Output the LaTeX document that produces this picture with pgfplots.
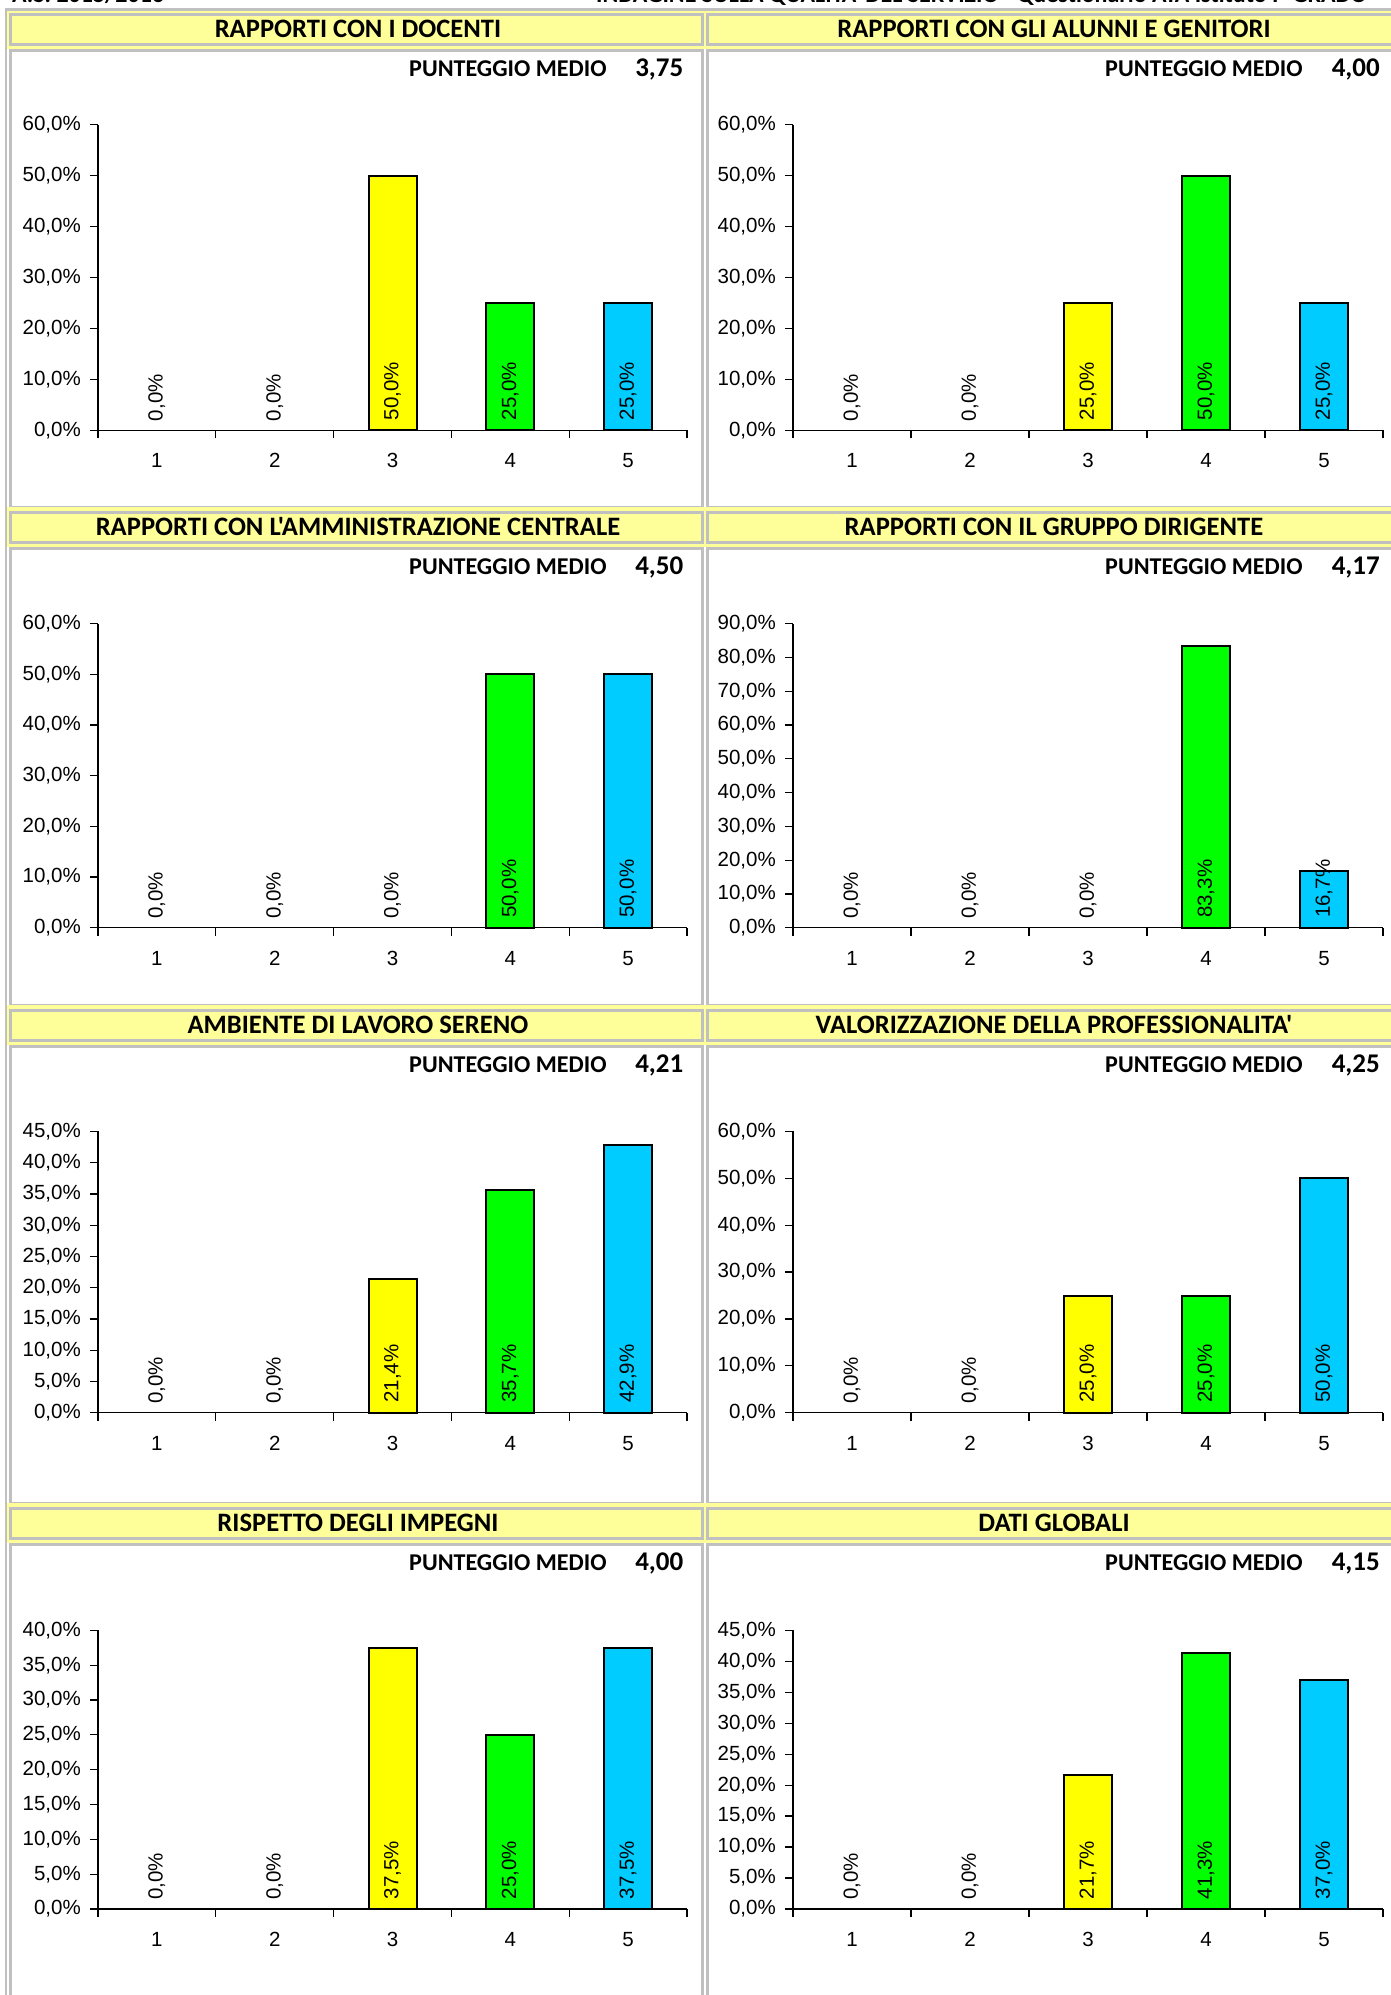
\documentclass[border=0pt]{standalone}
\usepackage{fontspec}
\setmainfont{Carlito}
\newfontfamily\calf{Carlito}
\newfontfamily\arialf{Liberation Sans}
\usepackage{pgfplots}
\pgfplotsset{compat=1.18}
\definecolor{tyel}{HTML}{FFFF99}
\definecolor{bgray}{HTML}{C0C0C0}
\definecolor{cY}{HTML}{FFFF00}
\definecolor{cG}{HTML}{00FF00}
\definecolor{cC}{HTML}{00CCFF}
\newcommand\tfont{\calf\bfseries\fontsize{26.6}{30}\selectfont}
\newcommand\pfont{\calf\bfseries\fontsize{24.1}{28}\selectfont}
\newcommand\vfont{\calf\bfseries\fontsize{27}{31}\selectfont}
\newcommand\afont{\arialf\fontsize{20.5}{24}\selectfont}
\pgfplotsset{
  panel/.style={
    scale only axis, anchor=south west,
    xmin=0.5, xmax=5.5, ymin=0,
    axis x line*=bottom, axis y line*=left,
    axis line style={black, line width=1.3pt},
    tick style={black, line width=1.3pt},
    tick align=outside, major tick length=8pt, minor tick length=8pt,
    xtick={1,2,3,4,5},
    every major x tick/.append style={draw=none},
    minor xtick={0.5,1.5,2.5,3.5,4.5,5.5},
    tick label style={font=\afont},
    /pgf/number format/assume math mode=true,
    yticklabel={\pgfmathprintnumber[fixed,fixed zerofill,precision=1,use comma]{\tick}\%},
    yticklabel style={inner sep=0pt, xshift=-9pt},
    xticklabel style={inner sep=0pt, yshift=-15pt},
    scaled y ticks=false,
    ybar, bar width=48pt,
    nodes near coords={\pgfmathprintnumber[fixed,fixed zerofill,precision=1,use comma]{\pgfplotspointmeta}\%},
    visualization depends on={y \as \rawy},
    every node near coord/.append style={font=\afont, text=black, inner sep=0pt, anchor=west,
      shift={(axis direction cs:0,-\rawy)}, yshift=9pt, rotate=90},
    clip=false,
  },
  b0/.style={draw=none, fill=none, bar shift=0pt},
  bY/.style={draw=black, line width=2pt, fill=cY, bar shift=0pt},
  bG/.style={draw=black, line width=2pt, fill=cG, bar shift=0pt},
  bC/.style={draw=black, line width=2pt, fill=cC, bar shift=0pt},
}
\begin{document}
\begin{tikzpicture}
\useasboundingbox (0pt,0pt) rectangle (1391pt,-1995pt);
\clip (0pt,0pt) rectangle (1391pt,-1995pt);
\begin{scope}[x=1pt,y=-1pt]
\foreach \r in {0,1,2,3}{
  \pgfmathsetmacro\R{498*\r}
  \fill[tyel] (7,\R+8.7) rectangle (1391,\R+48.7);
  \draw[bgray, line width=3pt, fill=tyel] (10.5,\R+14.2) rectangle (702.5,\R+44.8);
  \draw[bgray, line width=3pt, fill=tyel] (707.5,\R+14.2) rectangle (1399.5,\R+44.8);
  \draw[bgray, line width=3pt, fill=white] (10.5,\R+50.2) rectangle (702.5,\R+507.2);
  \draw[bgray, line width=3pt, fill=white] (707.5,\R+50.2) rectangle (1399.5,\R+507.2);
  \node[anchor=base west, inner sep=0pt, font=\pfont] at (409,\R+76.7) {PUNTEGGIO MEDIO};
  \node[anchor=base west, inner sep=0pt, font=\pfont] at (1105,\R+76.7) {PUNTEGGIO MEDIO};
}
\draw[bgray, line width=2.5pt] (6,2000) -- (6,9.5) -- (1400,9.5);
\node[anchor=base west, inner sep=0pt, font=\calf\bfseries\fontsize{24}{28}\selectfont] at (12,2) {A.S. 2015/2016};
\node[anchor=base west, inner sep=0pt, font=\calf\bfseries\fontsize{24}{28}\selectfont] at (596,2) {INDAGINE SULLA QUALITA' DEL SERVIZIO - Questionario ATA Istituto I° GRADO};
% titles
\node[anchor=base, inner sep=0pt, font=\tfont] at (358,37.3) {RAPPORTI CON I DOCENTI};
\node[anchor=base, inner sep=0pt, font=\tfont] at (1054,37.3) {RAPPORTI CON GLI ALUNNI E GENITORI};
\node[anchor=base, inner sep=0pt, font=\tfont] at (358,535.3) {RAPPORTI CON L'AMMINISTRAZIONE CENTRALE};
\node[anchor=base, inner sep=0pt, font=\tfont] at (1054,535.3) {RAPPORTI CON IL GRUPPO DIRIGENTE};
\node[anchor=base, inner sep=0pt, font=\tfont] at (358,1033.3) {AMBIENTE DI LAVORO SERENO};
\node[anchor=base, inner sep=0pt, font=\tfont] at (1054,1033.3) {VALORIZZAZIONE DELLA PROFESSIONALITA'};
\node[anchor=base, inner sep=0pt, font=\tfont] at (358,1531.3) {RISPETTO DEGLI IMPEGNI};
\node[anchor=base, inner sep=0pt, font=\tfont] at (1054,1531.3) {DATI GLOBALI};
% mean scores
\node[anchor=base east, inner sep=0pt, font=\vfont] at (683.5,76.7) {3,75};
\node[anchor=base east, inner sep=0pt, font=\vfont] at (1380,76.7) {4,00};
\node[anchor=base east, inner sep=0pt, font=\vfont] at (683.5,574.7) {4,50};
\node[anchor=base east, inner sep=0pt, font=\vfont] at (1380,574.7) {4,17};
\node[anchor=base east, inner sep=0pt, font=\vfont] at (683.5,1072.7) {4,21};
\node[anchor=base east, inner sep=0pt, font=\vfont] at (1380,1072.7) {4,25};
\node[anchor=base east, inner sep=0pt, font=\vfont] at (683.5,1570.7) {4,00};
\node[anchor=base east, inner sep=0pt, font=\vfont] at (1380,1570.7) {4,15};
\end{scope}

% Row 1
\begin{axis}[panel, at={(98pt,-430.2pt)}, width=589pt, height=305.5pt, ymax=60, ytick={0,10,...,60}]
\addplot[b0] coordinates {(1,0)};
\addplot[b0] coordinates {(2,0)};
\addplot[bY] coordinates {(3,50)};
\addplot[bG] coordinates {(4,25)};
\addplot[bC] coordinates {(5,25)};
\end{axis}
\begin{axis}[panel, at={(793pt,-430.2pt)}, width=590pt, height=305.5pt, ymax=60, ytick={0,10,...,60}]
\addplot[b0] coordinates {(1,0)};
\addplot[b0] coordinates {(2,0)};
\addplot[bY] coordinates {(3,25)};
\addplot[bG] coordinates {(4,50)};
\addplot[bC] coordinates {(5,25)};
\end{axis}
% Row 2
\begin{axis}[panel, at={(98pt,-927.8pt)}, width=589pt, height=304.2pt, ymax=60, ytick={0,10,...,60}]
\addplot[b0] coordinates {(1,0)};
\addplot[b0] coordinates {(2,0)};
\addplot[b0] coordinates {(3,0)};
\addplot[bG] coordinates {(4,50)};
\addplot[bC] coordinates {(5,50)};
\end{axis}
\begin{axis}[panel, at={(793pt,-927.8pt)}, width=590pt, height=304.2pt, ymax=90, ytick={0,10,...,90}]
\addplot[b0] coordinates {(1,0)};
\addplot[b0] coordinates {(2,0)};
\addplot[b0] coordinates {(3,0)};
\addplot[bG] coordinates {(4,83.3)};
\addplot[bC] coordinates {(5,16.7)};
\end{axis}
% Row 3
\begin{axis}[panel, at={(98pt,-1412.7pt)}, width=589pt, height=281.3pt, ymax=45, ytick={0,5,...,45}]
\addplot[b0] coordinates {(1,0)};
\addplot[b0] coordinates {(2,0)};
\addplot[bY] coordinates {(3,21.4)};
\addplot[bG] coordinates {(4,35.7)};
\addplot[bC] coordinates {(5,42.9)};
\end{axis}
\begin{axis}[panel, at={(793pt,-1412.7pt)}, width=590pt, height=281.3pt, ymax=60, ytick={0,10,...,60}]
\addplot[b0] coordinates {(1,0)};
\addplot[b0] coordinates {(2,0)};
\addplot[bY] coordinates {(3,25)};
\addplot[bG] coordinates {(4,25)};
\addplot[bC] coordinates {(5,50)};
\end{axis}
% Row 4
\begin{axis}[panel, at={(98pt,-1909pt)}, width=589pt, height=278.7pt, ymax=40, ytick={0,5,...,40}]
\addplot[b0] coordinates {(1,0)};
\addplot[b0] coordinates {(2,0)};
\addplot[bY] coordinates {(3,37.5)};
\addplot[bG] coordinates {(4,25)};
\addplot[bC] coordinates {(5,37.5)};
\end{axis}
\begin{axis}[panel, at={(793pt,-1909pt)}, width=590pt, height=278.7pt, ymax=45, ytick={0,5,...,45}]
\addplot[b0] coordinates {(1,0)};
\addplot[b0] coordinates {(2,0)};
\addplot[bY] coordinates {(3,21.7)};
\addplot[bG] coordinates {(4,41.3)};
\addplot[bC] coordinates {(5,37.0)};
\end{axis}
\end{tikzpicture}
\end{document}
